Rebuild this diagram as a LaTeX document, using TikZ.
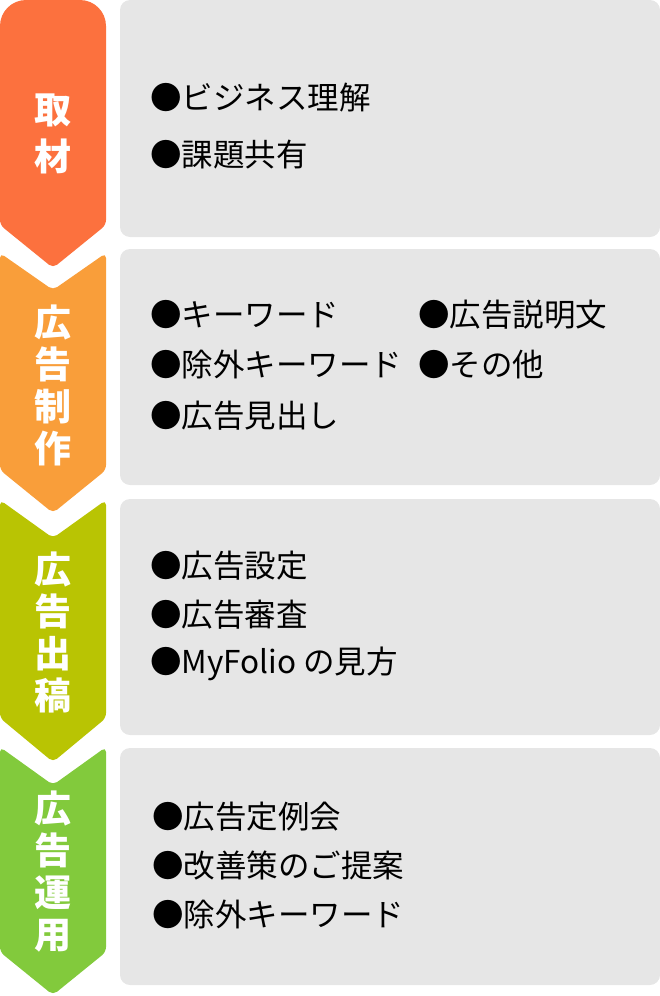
\documentclass[tikz,border=0pt]{standalone}
\usepackage{fontspec}
\setmainfont{Noto Sans CJK JP}
\usetikzlibrary{positioning}
\definecolor{colCover}{HTML}{FC713E}
\definecolor{colMake}{HTML}{F99E3A}
\definecolor{colPost}{HTML}{B9C403}
\definecolor{colRun}{HTML}{82CA3C}
\definecolor{colPanel}{HTML}{E6E6E6}
\tikzset{
  panel/.style={fill=colPanel, rounded corners=10pt},
  item/.style={anchor=west, inner sep=0pt, font=\fontsize{31.5pt}{36pt}\selectfont},
  steplabel/.style={text=white, align=center, inner sep=0pt, font=\bfseries\fontsize{37pt}{#1}\selectfont},
}
\begin{document}
\begin{tikzpicture}[x=1pt, y=-1pt]
			%%%%% START %%%%%
			\useasboundingbox (0, 0) rectangle (660, 996);
			
			\fill[panel] (120, 0) rectangle (660, 237);
			\fill[panel] (120, 249) rectangle (660, 485);
			\fill[panel] (120, 499) rectangle (660, 735);
			\fill[panel] (120, 748) rectangle (660, 985);
			
			\fill[colCover] (0, 120) [rounded corners=26pt] -- (0, 0) -- (106, 0) [rounded corners=5pt] -- (106, 225) -- (53, 268) -- (0, 225) -- cycle;
			\fill[colMake, rounded corners=5pt] (0, 253) -- (53, 290) -- (106, 253) -- (106, 470) -- (53, 513) -- (0, 470) -- cycle;
			\fill[colPost, rounded corners=5pt] (0, 500) -- (53, 538) -- (106, 500) -- (106, 718) -- (53, 762) -- (0, 718) -- cycle;
			\fill[colRun, rounded corners=5pt] (0, 747) -- (53, 785) -- (106, 747) -- (106, 952) -- (53, 995) -- (0, 952) -- cycle;
			
			\node[steplabel=47pt] (cover) at (53, 134) {取\\材};
			\node[steplabel=42pt] (make) at (53, 385) {広\\告\\制\\作};
			\node[steplabel=42pt] (post) at (53, 632) {広\\告\\出\\稿};
			\node[steplabel=42pt] (run) at (53, 872) {広\\告\\運\\用};
			
			\node[item] (coverA) at (150, 98) {●ビジネス理解};
			\node[item] (coverB) at (150, 155) {●課題共有};
			
			\node[item] (makeA) at (150, 315) {●キーワード};
			\node[item] (makeB) at (150, 365) {●除外キーワード};
			\node[item] (makeC) at (150, 416) {●広告見出し};
			\node[item] (makeD) at (418, 315) {●広告説明文};
			\node[item] (makeE) at (418, 365) {●その他};
			
			\node[item] (postA) at (150, 566) {●広告設定};
			\node[item] (postB) at (150, 615) {●広告審査};
			\node[item] (postC) at (150, 664) {●MyFolio の見方};
			
			\node[item] (runA) at (152, 817) {●広告定例会};
			\node[item] (runB) at (152, 866) {●改善策のご提案};
			\node[item] (runC) at (152, 915) {●除外キーワード};
			
			%%%%% END %%%%%
\end{tikzpicture}
\end{document}
